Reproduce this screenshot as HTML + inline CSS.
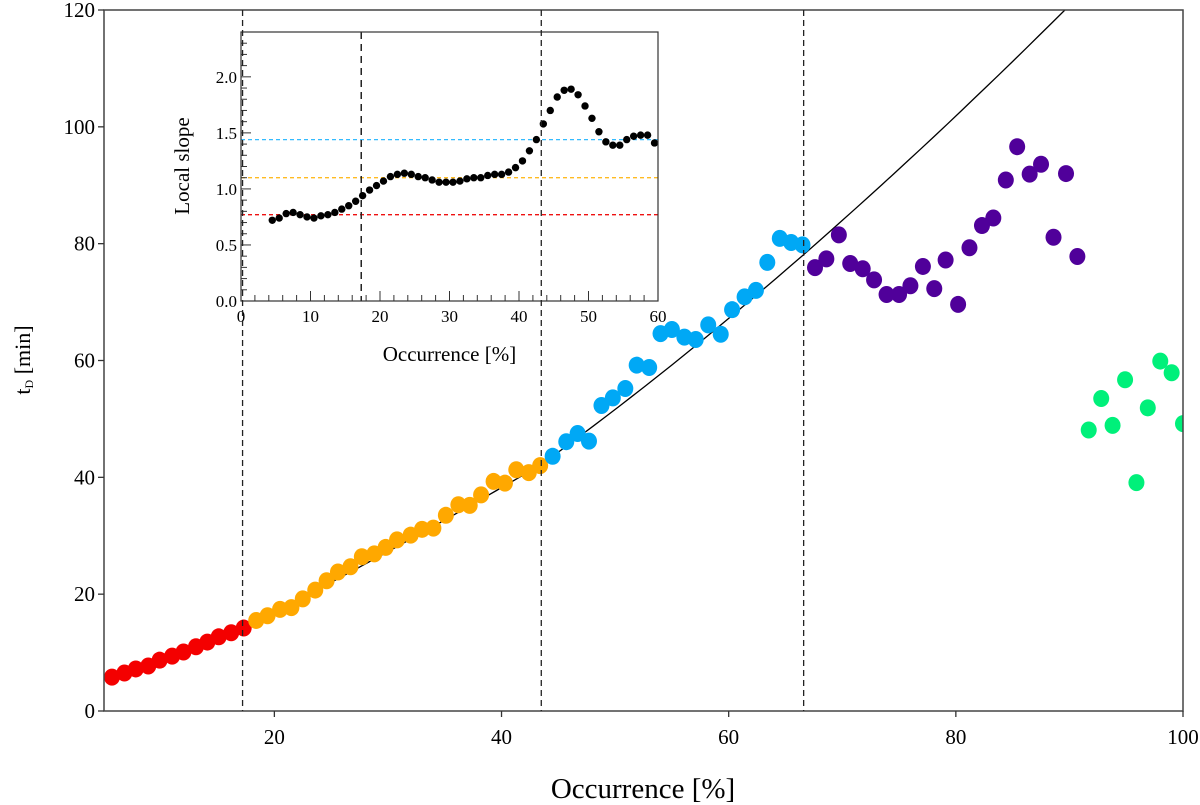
<!DOCTYPE html>
<html><head><meta charset="utf-8"><style>
html,body{margin:0;padding:0;background:#fff;}
svg{display:block;font-family:"Liberation Serif",serif;}
</style></head><body>
<svg id="chart" width="1200" height="805" viewBox="0 0 1200 805" xmlns="http://www.w3.org/2000/svg"></svg>
<script>
// ---- main data ----
const redX=[5.7,6.8,7.8,8.9,9.9,11.0,12.0,13.1,14.1,15.1,16.2,17.3];
const redY=[5.8,6.5,7.2,7.7,8.7,9.4,10.1,11.0,11.8,12.7,13.4,14.2];
const orangeX=[18.4,19.4,20.5,21.5,22.5,23.6,24.6,25.6,26.7,27.7,28.8,29.8,30.8,32.0,33.0,34.0,35.1,36.2,37.2,38.2,39.3,40.3,41.3,42.4,43.4];
const orangeY=[15.5,16.3,17.4,17.7,19.2,20.7,22.3,23.8,24.7,26.4,26.9,28.0,29.3,30.1,31.1,31.3,33.5,35.3,35.2,37.0,39.3,39.0,41.3,40.8,42.0];
const blueX=[44.5,45.7,46.7,47.7,48.8,49.8,50.9,51.9,53.0,54.0,55.0,56.1,57.1,58.2,59.3,60.3,61.4,62.4,63.4,64.5,65.5,66.5];
const blueY=[43.6,46.1,47.5,46.2,52.3,53.6,55.2,59.2,58.8,64.6,65.3,64.0,63.6,66.1,64.5,68.7,70.9,72.0,76.8,80.9,80.2,79.8];
const purpleX=[67.6,68.6,69.7,70.7,71.8,72.8,73.9,75.0,76.0,77.1,78.1,79.1,80.2,81.2,82.3,83.3,84.4,85.4,86.5,87.5,88.6,89.7,90.7];
const purpleY=[75.9,77.4,81.5,76.6,75.7,73.8,71.3,71.3,72.8,76.1,72.3,77.2,69.6,79.3,83.1,84.4,90.9,96.6,91.9,93.6,81.1,92.0,77.8];
const greenX=[91.7,92.8,93.8,94.9,95.9,96.9,98.0,99.0,100.0];
const greenY=[48.1,53.5,48.9,56.7,39.1,51.9,59.9,57.9,49.2];
const fitX=[5.0,17.2,43.5,89.6,95];
const fitY=[5.3,14.2,42.2,120,130.6];
const breakX=[17.2,43.5,66.6];
const xTicks=[20,40,60,80,100];
const yTicks=[0,20,40,60,80,100,120];
// ---- inset data ----
const insetX=[4.5,5.5,6.5,7.5,8.5,9.5,10.5,11.5,12.5,13.5,14.5,15.5,16.5,17.5,18.5,19.5,20.5,21.5,22.5,23.5,24.5,25.5,26.5,27.5,28.5,29.5,30.5,31.5,32.5,33.5,34.5,35.5,36.5,37.5,38.5,39.5,40.5,41.5,42.5,43.5,44.5,45.5,46.5,47.5,48.5,49.5,50.5,51.5,52.5,53.5,54.5,55.5,56.5,57.5,58.5,59.5];
const insetY=[0.72,0.74,0.78,0.79,0.77,0.75,0.74,0.76,0.77,0.79,0.82,0.85,0.89,0.94,0.99,1.03,1.07,1.11,1.13,1.14,1.13,1.11,1.10,1.08,1.06,1.06,1.06,1.07,1.09,1.10,1.10,1.12,1.13,1.13,1.15,1.19,1.25,1.34,1.44,1.58,1.70,1.82,1.88,1.89,1.84,1.74,1.63,1.51,1.42,1.39,1.39,1.44,1.47,1.48,1.48,1.41];
const refSlopes=[1.44,1.10,0.77];
const refColors=['#33bbff','#ffbb22','#ee1111'];
const insetBreak=[17.3];
const insetXTicks=[0,10,20,30,40,50,60];
const insetYTicks=[0.0,0.5,1.0,1.5,2.0];

const NS='http://www.w3.org/2000/svg';
const svg=document.getElementById('chart');
function mk(tag,attrs,parent){const e=document.createElementNS(NS,tag);for(const k in attrs)e.setAttribute(k,attrs[k]);(parent||svg).appendChild(e);return e;}

const L=104,R=1183,T=10,B=711,X0=5,X1=100,Y0=0,Y1=120;
const sx=v=>L+(v-X0)*(R-L)/(X1-X0);
const sy=v=>B-(v-Y0)*(B-T)/(Y1-Y0);

const defs=mk('defs',{});
const cp=mk('clipPath',{id:'mainclip'},defs);
mk('rect',{x:L,y:T,width:R-L,height:B-T},cp);

let d='';
for(let s=0;s<fitX.length-1;s++){
  const a=fitX[s],b=fitX[s+1],ya=fitY[s],yb=fitY[s+1];
  const p=Math.log(yb/ya)/Math.log(b/a);
  for(let i=0;i<=40;i++){const x=a+(b-a)*i/40;const y=ya*Math.pow(x/a,p);d+=(d?'L':'M')+sx(x).toFixed(1)+','+sy(y).toFixed(1);}
}
const fit=mk('path',{d:d,fill:'none',stroke:'#000','stroke-width':1.3,'clip-path':'url(#mainclip)'});



function series(xs,ys,color,name){
  const g=mk('g',{'clip-path':'url(#mainclip)'});
  
  
  for(let i=0;i<xs.length;i++){
    const c=mk('ellipse',{cx:sx(xs[i]),cy:sy(ys[i]),rx:8,ry:8.5,fill:color},g);
    
    
  }
}
series(redX,redY,'#f40000','red');
series(orangeX,orangeY,'#ffa800','orange');
series(blueX,blueY,'#00a8f5','blue');
series(purpleX,purpleY,'#50009a','purple');
series(greenX,greenY,'#00f07a','green');

const frame=mk('rect',{x:L,y:T,width:R-L,height:B-T,fill:'none',stroke:'#444','stroke-width':1.5});


xTicks.forEach(v=>{
  mk('line',{x1:sx(v),x2:sx(v),y1:B,y2:B+6,stroke:'#333','stroke-width':1.3});
  const t=mk('text',{x:sx(v),y:B+33,'text-anchor':'middle','font-size':21});t.textContent=v;
  
  
});
yTicks.forEach(v=>{
  mk('line',{x1:L-6,x2:L,y1:sy(v),y2:sy(v),stroke:'#333','stroke-width':1.3});
  const t=mk('text',{x:L-9,y:sy(v)+7,'text-anchor':'end','font-size':21});t.textContent=v;
  
  
});

// inset
const iL=241,iR=658,iT=32,iB=301,ix0=0,ix1=60,iy0=0,iy1=2.4;
const isx=v=>iL+(v-ix0)*(iR-iL)/(ix1-ix0);
const isy=v=>iB-(v-iy0)*(iB-iT)/(iy1-iy0);
const ig=mk('g',{});


mk('rect',{x:iL,y:iT,width:iR-iL,height:iB-iT,fill:'#fff',stroke:'none'},ig);
refSlopes.forEach((v,i)=>{
  const l=mk('line',{x1:iL,x2:iR,y1:isy(v),y2:isy(v),stroke:refColors[i],'stroke-width':1.3,'stroke-dasharray':'4,3'},ig);
  
  
});
insetBreak.forEach(v=>{
  const l=mk('line',{x1:isx(v),x2:isx(v),y1:iT,y2:iB,stroke:'#222','stroke-width':1.5,'stroke-dasharray':'7,5'},ig);
  
  
});
for(let i=0;i<insetX.length;i++){
  const c=mk('circle',{cx:isx(insetX[i]),cy:isy(insetY[i]),r:3.7,fill:'#000'},ig);
  
  
}
mk('rect',{x:iL,y:iT,width:iR-iL,height:iB-iT,fill:'none',stroke:'#333','stroke-width':1.2},ig);
for(let v=0;v<=60;v+=2){const maj=v%10===0;mk('line',{x1:isx(v),x2:isx(v),y1:iB,y2:iB-(maj?10:6),stroke:'#333','stroke-width':1},ig);}
for(let k=0;k<=24;k++){const v=k/10;const maj=k%5===0;mk('line',{x1:iL,x2:iL+(maj?10:6),y1:isy(v),y2:isy(v),stroke:'#333','stroke-width':1},ig);}
insetXTicks.forEach(v=>{const t=mk('text',{x:isx(v),y:iB+21,'text-anchor':'middle','font-size':17},ig);t.textContent=v;
  
  });
insetYTicks.forEach(v=>{const t=mk('text',{x:iL-4,y:isy(v)+6,'text-anchor':'end','font-size':17},ig);t.textContent=v.toFixed(1);
  
  });
const ixt=mk('text',{x:(iL+iR)/2,y:361,'text-anchor':'middle','font-size':21},ig);ixt.textContent='Occurrence [%]';


const iyt=mk('text',{x:0,y:0,'text-anchor':'middle','font-size':21,transform:'translate(189,166) rotate(-90)'},ig);iyt.textContent='Local slope';



breakX.forEach(v=>{
  const l=mk('line',{x1:sx(v),x2:sx(v),y1:T,y2:B,stroke:'#222','stroke-width':1.3,'stroke-dasharray':'6,4'});
  
  
});

const xt=mk('text',{x:643,y:798,'text-anchor':'middle','font-size':29});xt.textContent='Occurrence [%]';


const yt=mk('text',{x:0,y:0,'text-anchor':'middle','font-size':22,transform:'translate(30,360) rotate(-90)'});


const t1=mk('tspan',{},yt);t1.textContent='t';
const t2=mk('tspan',{'font-size':12,dy:3},yt);t2.textContent='D';
const t3=mk('tspan',{dy:-3},yt);t3.textContent=' [min]';
</script>
</body></html>
